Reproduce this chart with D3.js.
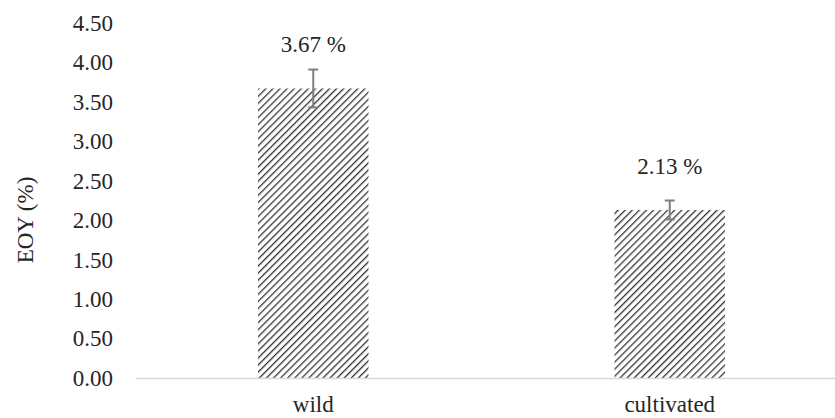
<!DOCTYPE html>
<html>
<head>
<meta charset="utf-8">
<script src="https://cdn.jsdelivr.net/npm/d3@7"></script>
<style>
  body { margin: 0; background: #fff; }
  svg { display: block; }
  svg text { font-family: "Liberation Serif", "Times New Roman", "DejaVu Serif", serif; }
</style>
</head>
<body>
<svg id="chart"></svg>
<script>
const categories = ['wild', 'cultivated'];
const values = [3.67, 2.13];
const errors = [0.24, 0.12];
const labels = ['3.67 %', '2.13 %'];
const yTicks = [0, 0.5, 1, 1.5, 2, 2.5, 3, 3.5, 4, 4.5];

const width = 835;
const height = 418;
const serif = '"Liberation Serif", "Times New Roman", serif';

const svg = d3.select('#chart')
  .attr('width', width)
  .attr('height', height);

// hatch fill like the Excel "dark upward diagonal"
const pat = svg.append('defs').append('pattern')
  .attr('id', 'hatch')
  .attr('patternUnits', 'userSpaceOnUse')
  .attr('width', 5)
  .attr('height', 5)
  .attr('patternTransform', 'rotate(45)');
pat.append('rect').attr('width', 5).attr('height', 5).attr('fill', '#fff');
pat.append('line')
  .attr('x1', 0).attr('y1', 0).attr('x2', 0).attr('y2', 5)
  .attr('stroke', '#333').attr('stroke-width', 2.6);

const x = d3.scaleBand()
  .domain(categories)
  .range([135, 848])
  .paddingInner(0.69)
  .paddingOuter(0.345);

const y = d3.scaleLinear()
  .domain([0, 4.5])
  .range([378, 23]);

// y tick labels
const yAxis = d3.axisLeft(y)
  .tickValues(yTicks)
  .tickFormat(d3.format('.2f'))
  .tickSize(0)
  .tickPadding(0);
const gy = svg.append('g')
  .attr('transform', 'translate(113,0)')
  .call(yAxis)
  .attr('font-family', serif)
  .attr('font-size', 23);
gy.select('.domain').remove();
gy.selectAll('text').attr('fill', '#262626');

// bars
svg.selectAll('rect.bar')
  .data(values)
  .enter()
  .append('rect')
  .attr('class', 'bar')
  .attr('x', (d, i) => x(categories[i]))
  .attr('y', d => y(d))
  .attr('width', x.bandwidth())
  .attr('height', d => y(0) - y(d))
  .attr('fill', 'url(#hatch)');

// baseline
const gx = svg.append('g')
  .attr('transform', 'translate(0,' + y(0) + ')')
  .call(d3.axisBottom(x).tickSize(0).tickPadding(18))
  .attr('font-family', serif)
  .attr('font-size', 23);
gx.select('.domain').attr('stroke', '#d9d9d9').attr('stroke-width', 1.5);
gx.selectAll('text').attr('fill', '#262626');

// error bars
const eb = svg.selectAll('g.err')
  .data(values)
  .enter()
  .append('g')
  .attr('class', 'err')
  .attr('stroke', '#7f7f7f')
  .attr('stroke-width', 2);
eb.append('line')
  .attr('x1', (d, i) => x(categories[i]) + x.bandwidth() / 2)
  .attr('x2', (d, i) => x(categories[i]) + x.bandwidth() / 2)
  .attr('y1', (d, i) => y(d + errors[i]))
  .attr('y2', (d, i) => y(d - errors[i]));
[1, -1].forEach(s => {
  eb.append('line')
    .attr('x1', (d, i) => x(categories[i]) + x.bandwidth() / 2 - 5)
    .attr('x2', (d, i) => x(categories[i]) + x.bandwidth() / 2 + 5)
    .attr('y1', (d, i) => y(d + s * errors[i]))
    .attr('y2', (d, i) => y(d + s * errors[i]));
});

// value labels
svg.selectAll('text.val')
  .data(values)
  .enter()
  .append('text')
  .attr('class', 'val')
  .attr('x', (d, i) => x(categories[i]) + x.bandwidth() / 2)
  .attr('y', d => y(d) - 36)
  .attr('text-anchor', 'middle')
  .attr('font-family', serif)
  .attr('font-size', 23)
  .attr('fill', '#262626')
  .text((d, i) => labels[i]);

// y title
svg.append('text')
  .attr('transform', 'translate(33,220) rotate(-90)')
  .attr('text-anchor', 'middle')
  .attr('font-family', serif)
  .attr('font-size', 23)
  .attr('fill', '#262626')
  .text('EOY (%)');
</script>
</body>
</html>
